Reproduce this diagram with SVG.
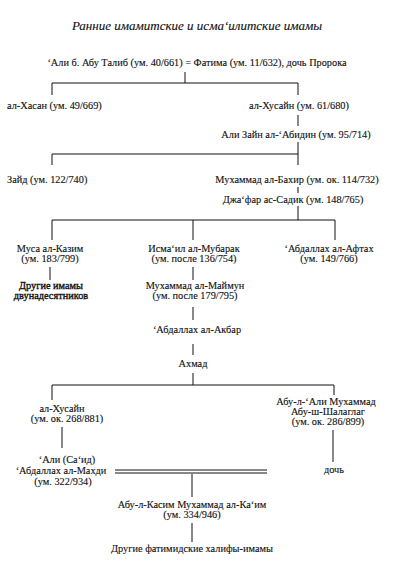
<svg xmlns="http://www.w3.org/2000/svg" width="409" height="580" viewBox="0 0 409 580">
<style>
text{font-family:'Liberation Serif',serif;font-size:10.3px;fill:#111;stroke:#111;stroke-width:0.12}
.c{text-anchor:middle}
.t{font-style:italic;font-size:13px}
.b{stroke-width:0.35}
#connectors line{stroke:#111;stroke-width:1}
</style>
<rect width="409" height="580" fill="#fff"/>
<text class="t c" x="197" y="30">Ранние имамитские и исма‘илитские имамы</text>
<g id="connectors">
<line x1="185" y1="72" x2="185" y2="83"/>
<line x1="52" y1="83" x2="298" y2="83"/>
<line x1="52" y1="83" x2="52" y2="95"/>
<line x1="298" y1="83" x2="298" y2="95"/>
<line x1="298" y1="115" x2="298" y2="126"/>
<line x1="298" y1="142" x2="298" y2="165"/>
<line x1="52" y1="154" x2="298" y2="154"/>
<line x1="52" y1="154" x2="52" y2="165"/>
<line x1="298" y1="187" x2="298" y2="193"/>
<line x1="298" y1="206" x2="298" y2="220"/>
<line x1="52" y1="220" x2="335" y2="220"/>
<line x1="52" y1="220" x2="52" y2="240"/>
<line x1="193" y1="220" x2="193" y2="240"/>
<line x1="335" y1="220" x2="335" y2="240"/>
<line x1="50" y1="267" x2="50" y2="280"/>
<line x1="193" y1="267" x2="193" y2="280"/>
<line x1="193" y1="307" x2="193" y2="320"/>
<line x1="193" y1="344" x2="193" y2="355"/>
<line x1="193" y1="373" x2="193" y2="385"/>
<line x1="52" y1="385" x2="334" y2="385"/>
<line x1="52" y1="385" x2="52" y2="400"/>
<line x1="334" y1="385" x2="334" y2="395"/>
<line x1="62" y1="427" x2="62" y2="448"/>
<line x1="333" y1="430" x2="333" y2="462"/>
<line x1="115" y1="470" x2="267" y2="470"/>
<line x1="115" y1="473" x2="267" y2="473"/>
<line x1="192" y1="474" x2="192" y2="497"/>
<line x1="192" y1="523" x2="192" y2="542"/>
</g>
<g id="n-ali"><text class="c" x="197" y="66">‘Али б. Абу Талиб (ум. 40/661) = Фатима (ум. 11/632), дочь Пророка</text></g>
<g id="n-hasan"><text x="7" y="109">ал-Хасан (ум. 49/669)</text></g>
<g id="n-husayn"><text class="c" x="299" y="109">ал-Хусайн (ум. 61/680)</text></g>
<g id="n-zayn"><text class="c" x="296" y="138">Али Зайн ал-‘Абидин (ум. 95/714)</text></g>
<g id="n-zayd"><text x="7" y="183">Зайд (ум. 122/740)</text></g>
<g id="n-baqir"><text class="c" x="297" y="183">Мухаммад ал-Бахир (ум. ок. 114/732)</text></g>
<g id="n-jafar"><text class="c" x="293" y="203">Джа‘фар ас-Садик (ум. 148/765)</text></g>
<g id="n-musa"><text class="c" x="50" y="252">Муса ал-Казим</text><text class="c" x="50" y="262">(ум. 183/799)</text></g>
<g id="n-twelver"><text class="c b" x="51" y="289">Другие имамы</text><text class="c b" x="51" y="299">двунадесятников</text></g>
<g id="n-ismail"><text class="c" x="194" y="252">Исма‘ил ал-Мубарак</text><text class="c" x="194" y="262">(ум. после 136/754)</text></g>
<g id="n-aftah"><text class="c" x="329" y="252">‘Абдаллах ал-Афтах</text><text class="c" x="329" y="262">(ум. 149/766)</text></g>
<g id="n-maymun"><text class="c" x="195" y="289">Мухаммад ал-Маймун</text><text class="c" x="195" y="299">(ум. после 179/795)</text></g>
<g id="n-akbar"><text class="c" x="197" y="333">‘Абдаллах ал-Акбар</text></g>
<g id="n-ahmad"><text class="c" x="193" y="367">Ахмад</text></g>
<g id="n-husayn2"><text class="c" x="62" y="412">ал-Хусайн</text><text class="c" x="67" y="422">(ум. ок. 268/881)</text></g>
<g id="n-shalaghlagh"><text class="c" x="326" y="405">Абу-л-‘Али Мухаммад</text><text class="c" x="328" y="415">Абу-ш-Шалаглаг</text><text class="c" x="328" y="425">(ум. ок. 286/899)</text></g>
<g id="n-mahdi"><text class="c" x="67" y="463">‘Али (Са‘ид)</text><text class="c" x="61" y="474">‘Абдаллах ал-Махди</text><text class="c" x="63" y="485">(ум. 322/934)</text></g>
<g id="n-daughter"><text class="c" x="334" y="473">дочь</text></g>
<g id="n-qaim"><text class="c" x="192" y="508">Абу-л-Касим Мухаммад ал-Ка‘им</text><text class="c" x="192" y="518">(ум. 334/946)</text></g>
<g id="n-fatimids"><text class="c" x="192" y="552">Другие фатимидские халифы-имамы</text></g>
</svg>
